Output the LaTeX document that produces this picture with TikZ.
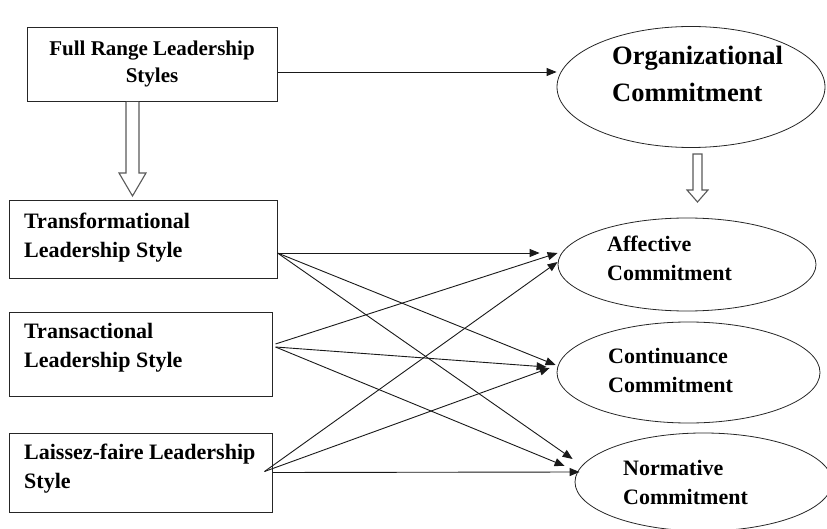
\documentclass[tikz,border=0pt]{standalone}
\usepackage{fontspec}
\setmainfont{Liberation Serif}
\usetikzlibrary{arrows.meta,calc,shapes.geometric}
\begin{document}
\begin{tikzpicture}[x=1pt,y=-1pt,
  box/.style={draw=black!85,line width=1pt,inner sep=0pt},
  oval/.style={draw=black!85,line width=0.8pt,ellipse,inner sep=0pt},
  txt/.style={font=\bfseries\fontsize{22}{29}\selectfont,align=left,anchor=west,inner sep=0pt},
  conn/.style={-{Triangle[length=10pt,width=8pt]},line width=0.9pt,black!90},
  hollow/.style={draw=black!65,line width=1.1pt,fill=white,line join=miter}]
\useasboundingbox (0,0) rectangle (827,529);

% left-hand boxes
\node[box,minimum width=250pt,minimum height=74pt] (fr) at (152,65) {};
\node[box,minimum width=268pt,minimum height=78pt] (tf) at (143,240) {};
\node[box,minimum width=263pt,minimum height=84pt] (ta) at (140.5,354) {};
\node[box,minimum width=263pt,minimum height=79pt] (lf) at (140.5,472.5) {};

\node[font=\bfseries\fontsize{21}{27}\selectfont,align=center,inner sep=0pt] (frt) at (152,63.5) {Full Range Leadership\\Styles};
\node[txt] (tft) at (24,237.5) {Transformational\\Leadership Style};
\node[txt] (tat) at (24,348) {Transactional\\Leadership Style};
\node[txt] (lft) at (24,468.5) {Laissez-faire Leadership\\Style};

% right-hand ellipses
\node[oval,minimum width=268pt,minimum height=121pt] (org) at (691,87) {};
\node[oval,minimum width=258pt,minimum height=93pt] (aff) at (687,264.5) {};
\node[oval,minimum width=263pt,minimum height=101pt] (con) at (688.5,372.5) {};
\node[oval,minimum width=257pt,minimum height=98pt] (nor) at (703.5,482) {};

\node[txt,font=\bfseries\fontsize{26.5}{37}\selectfont] (orgt) at (612,73.5) {Organizational\\Commitment};
\node[txt] (afft) at (607,258) {Affective\\Commitment};
\node[txt] (cont) at (608,370.5) {Continuance\\Commitment};
\node[txt] (nort) at (623,482) {Normative\\Commitment};

% hollow block arrows
\draw[hollow] (126,102) -- (126,173) -- (119,173) -- (132.5,196) -- (146,173) -- (139,173) -- (139,102);
\draw[hollow] (693,154) -- (693,190) -- (687,190) -- (697.5,202) -- (708,190) -- (702,190) -- (702,154) -- cycle;

% main path
\draw[conn] ($(fr.east)+(0,7)$) -- ($(org.west)+(0,-15)$);

% transformational
\draw[conn] ($(tf.east)+(0,13)$) -- ($(aff.west)+(-18,-11.5)$);
\draw[conn] ($(tf.east)+(0,13)$) -- ($(con.west)+(-1,-7.5)$);
\draw[conn] ($(tf.east)+(0,13)$) -- ($(nor.west)+(-2,-23)$);

% transactional
\draw[conn] ($(ta.east)+(3,-10)$) -- ($(aff.west)+(0,-11.5)$);
\draw[conn] ($(ta.east)+(3,-7)$) -- ($(con.west)+(-10,-5.5)$);
\draw[conn] ($(ta.east)+(3,-7)$) -- ($(nor.west)+(-10,-16)$);

% laissez-faire
\draw[conn] ($(lf.east)+(-8,-1)$) -- ($(aff.west)+(0,-2.5)$);
\draw[conn] ($(lf.east)+(-8,-1)$) -- ($(con.west)+(-7,-4.5)$);
\draw[conn] (lf.east) -- ($(nor.west)+(5,-10)$);
\end{tikzpicture}
\end{document}
